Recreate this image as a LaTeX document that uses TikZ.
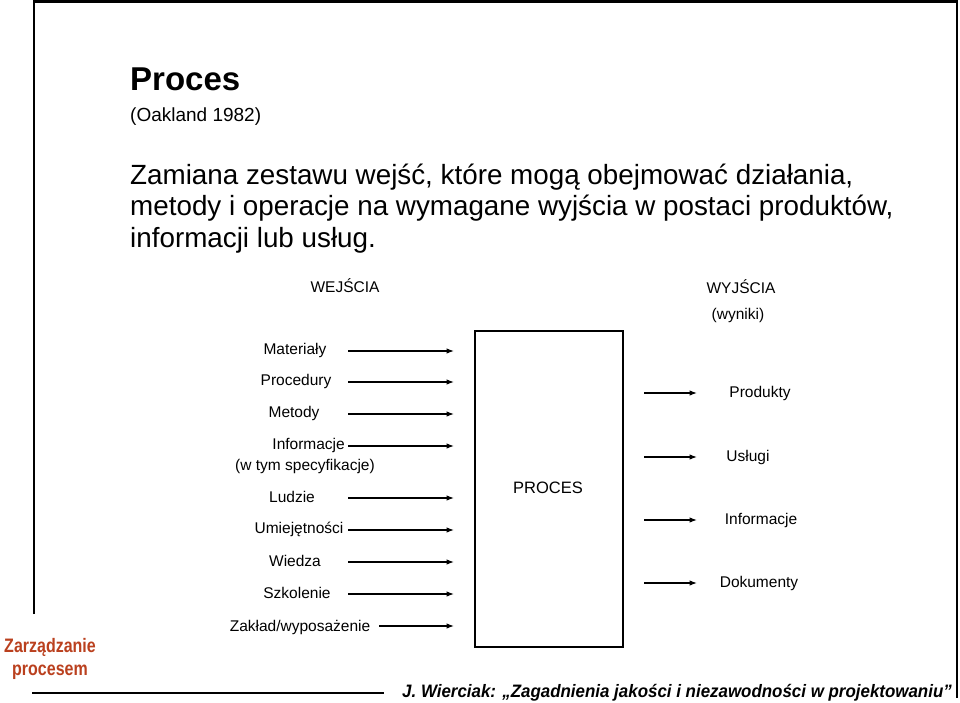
\documentclass[tikz,border=0pt]{standalone}
\usepackage{fontspec}
\setmainfont{Liberation Sans}
\newfontfamily\narrowfont[FakeStretch=0.82]{Liberation Sans}
\newfontfamily\footfont[FakeStretch=0.94]{Liberation Sans}
\usepackage{xcolor}
\usetikzlibrary{arrows.meta,positioning}
\definecolor{procred}{RGB}{186,64,30}
\tikzset{
  lbl/.style={inner sep=1pt, font=\fontsize{15.5}{18}\selectfont},
  box/.style={rectangle, draw, line width=1.3pt, inner sep=0pt},
  arr/.style={-{Latex[length=7.5pt,width=5.5pt]}, line width=1.1pt},
  frame/.style={line width=2.2pt}
}
\begin{document}
\begin{tikzpicture}[x=1pt,y=-1pt]
  \useasboundingbox (0,0) rectangle (960,702);
  % frame
  \draw[frame] (34,614) -- (34,1.5) -- (957,1.5) -- (957,698);
  \draw[frame] (32,693) -- (384,693);

  % title and text
  \node[anchor=base west, inner sep=0pt, font=\fontsize{33}{38}\selectfont\bfseries] (title) at (130,90) {Proces};
  \node[anchor=base west, inner sep=0pt, font=\fontsize{19}{22}\selectfont] (src) at (130,121) {(Oakland 1982)};
  \node[anchor=base west, inner sep=0pt, align=left, font=\fontsize{27.8}{31.5}\selectfont] (txt) at (130,247)
    {Zamiana zestawu wejść, które mogą obejmować działania,\\
     metody i operacje na wymagane wyjścia w postaci produktów,\\
     informacji lub usług.};

  % process box
  \node[box, minimum width=148pt, minimum height=316pt] (proc) at (549,489) {};
  \node[lbl, font=\fontsize{16.5}{19}\selectfont] (proclbl) at (548,488) {PROCES};

  % inputs
  \node[lbl] (wej) at (345,286) {WEJŚCIA};
  \foreach \name/\x/\y/\t in {mat/295/350/Materiały, prc/296/381/Procedury,
      met/294/413/Metody, lud/292/497/Ludzie, umi/299/529/Umiejętności,
      wie/295/561/Wiedza, szk/297/593/Szkolenie}{
    \node[lbl] (\name) at (\x,\y) {\t};
    \coordinate (\name a) at (348,\y+1);
    \coordinate (\name b) at (454,\y+1);
    \draw[arr] (\name a) -- (\name b);
  }
  \node[lbl, anchor=east] (inf) at (346,445) {Informacje};
  \node[lbl] (spec) at (305,466) {(w tym specyfikacje)};
  \coordinate (infa) at (348,446);
  \coordinate (infb) at (454,446);
  \draw[arr] (infa) -- (infb);
  \node[lbl] (zak) at (300,627) {Zakład/wyposażenie};
  \coordinate (zaka) at (379,626);
  \coordinate (zakb) at (454,626);
  \draw[arr] (zaka) -- (zakb);

  % outputs
  \node[lbl] (wyj) at (741,287) {WYJŚCIA};
  \node[lbl] (wyn) at (738,315) {(wyniki)};
  \foreach \name/\x/\y/\t in {prd/760/393/Produkty, usl/748/457/Usługi,
      ifo/761/520/Informacje, dok/759/583/Dokumenty}{
    \node[lbl] (\name) at (\x,\y) {\t};
    \coordinate (\name a) at (644,\y);
    \coordinate (\name b) at (697,\y);
    \draw[arr] (\name a) -- (\name b);
  }

  % footer
  \node[align=center, inner sep=0pt, text=procred, font=\fontsize{19.5}{23}\narrowfont\bfseries] (zarz) at (50,659)
    {Zarządzanie\\procesem};
  \node[anchor=base west, inner sep=0pt, font=\fontsize{18}{22}\footfont\bfseries\itshape] (foot) at (402,697)
    {J. Wierciak: „Zagadnienia jakości i niezawodności w projektowaniu”};
\end{tikzpicture}
\end{document}
